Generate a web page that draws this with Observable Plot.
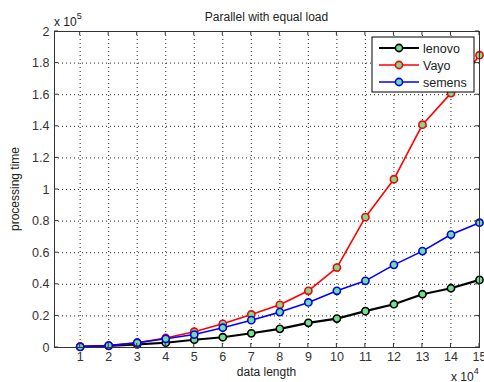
<!DOCTYPE html>
<html>
<head>
<meta charset="utf-8">
<script src="https://cdn.jsdelivr.net/npm/d3@7"></script>
<script src="https://cdn.jsdelivr.net/npm/@observablehq/plot@0.6"></script>
<style>
  html, body { margin: 0; padding: 0; background: #fff; }
  svg { display: block; }
</style>
</head>
<body>
<div id="chart"></div>
<script>
const dataLength = [1, 2, 3, 4, 5, 6, 7, 8, 9, 10, 11, 12, 13, 14, 15]; // x 10^4
const lenovo = [600, 1000, 2000, 3000, 4900, 6500, 9000, 11800, 15600, 18300, 23000, 27400, 33700, 37500, 42800];
const vayo   = [500, 1200, 3000, 6000, 10000, 15000, 20900, 27000, 35900, 50600, 82500, 106500, 141000, 161000, 185000];
const semens = [400, 1200, 3000, 5500, 8200, 12500, 17300, 22400, 28500, 35900, 42200, 52300, 61000, 71500, 79000];
const seriesNames = ["lenovo", "Vayo", "semens"];
const seriesColors = ["#000000", "#ff0000", "#0000ff"];
const seriesWidths = [2.2, 1.6, 1.6];
const yTicks = [0, 20000, 40000, 60000, 80000, 100000, 120000, 140000, 160000, 180000, 200000];
const xTicks = dataLength;
const markerFill = "#72e08e";

const allSeries = [lenovo, vayo, semens];
const rows = [];
allSeries.forEach((vals, si) => {
  vals.forEach((v, i) => rows.push({series: seriesNames[si], x: dataLength[i], y: v}));
});

const W = 484, H = 382;
const marks = [
  Plot.gridX(xTicks, {stroke: "#000", strokeOpacity: 0.85, strokeDasharray: "1,3"}),
  Plot.gridY(yTicks, {stroke: "#000", strokeOpacity: 0.85, strokeDasharray: "1,3"}),
  Plot.axisX(xTicks, {tickSize: 0, tickPadding: 5, fontSize: 12.5, fill: "#333", label: null}),
  Plot.axisY(yTicks, {tickSize: 0, tickPadding: 5, fontSize: 12.5, fill: "#333", label: null, tickFormat: d => String(d / 1e5)})
];
seriesNames.forEach((name, si) => {
  const d = rows.filter(r => r.series === name);
  marks.push(Plot.line(d, {x: "x", y: "y", stroke: seriesColors[si], strokeWidth: seriesWidths[si]}));
  marks.push(Plot.dot(d, {x: "x", y: "y", r: 3.6, fill: markerFill, stroke: seriesColors[si], strokeWidth: 1.6}));
});
marks.push(Plot.frame({stroke: "#333", strokeWidth: 1}));

const chart = Plot.plot({
  width: W,
  height: H,
  marginTop: 31,
  marginBottom: 35,
  marginLeft: 54,
  marginRight: 5,
  style: {fontFamily: "'Liberation Sans', Arial, sans-serif", background: "#fff"},
  x: {domain: [0.1, 15], type: "linear"},
  y: {domain: [0, 200000], type: "linear"},
  marks
});
document.getElementById("chart").appendChild(chart);

// Decorations (inward ticks, titles, exponents, legend)
const svg = d3.select(chart);
const sx = chart.scale("x"), sy = chart.scale("y");
const x0 = 54, x1 = W - 5, y0 = 31, y1 = H - 35;
const g = svg.append("g").attr("stroke", "#333").attr("stroke-width", 1);
xTicks.forEach(t => {
  const px = sx.apply(t);
  g.append("line").attr("x1", px).attr("x2", px).attr("y1", y1).attr("y2", y1 - 4);
  g.append("line").attr("x1", px).attr("x2", px).attr("y1", y0).attr("y2", y0 + 4);
});
yTicks.forEach(t => {
  const py = sy.apply(t);
  g.append("line").attr("y1", py).attr("y2", py).attr("x1", x0).attr("x2", x0 + 4);
  g.append("line").attr("y1", py).attr("y2", py).attr("x1", x1).attr("x2", x1 - 4);
});

const font = "'Liberation Sans', Arial, sans-serif";
const txt = svg.append("g").attr("font-family", font).attr("fill", "#222");
txt.append("text").attr("x", (x0 + x1) / 2).attr("y", 21).attr("text-anchor", "middle")
  .attr("font-size", 12).text("Parallel with equal load");
txt.append("text").attr("x", (x0 + x1) / 2).attr("y", 376).attr("text-anchor", "middle")
  .attr("font-size", 12).text("data length");
txt.append("text").attr("transform", `translate(19,${(y0 + y1) / 2}) rotate(-90)`).attr("text-anchor", "middle")
  .attr("font-size", 12).text("processing time");
// exponent labels
const e5 = txt.append("text").attr("x", 54).attr("y", 26).attr("font-size", 12).attr("text-anchor", "start");
e5.append("tspan").text("x 10");
e5.append("tspan").attr("dy", -7).attr("font-size", 9).text("5");
const e4 = txt.append("text").attr("x", 451).attr("y", 381).attr("font-size", 12).attr("text-anchor", "start");
e4.append("tspan").text("x 10");
e4.append("tspan").attr("dy", -7).attr("font-size", 9).text("4");

// legend
const lg = svg.append("g");
lg.append("rect").attr("x", 372).attr("y", 37).attr("width", 102).attr("height", 55)
  .attr("fill", "#fff").attr("stroke", "#000").attr("stroke-width", 1);
const rowsY = [48, 65, 82];
seriesNames.forEach((name, i) => {
  const y = rowsY[i];
  lg.append("line").attr("x1", 379).attr("x2", 419).attr("y1", y).attr("y2", y)
    .attr("stroke", seriesColors[i]).attr("stroke-width", seriesWidths[i]);
  lg.append("circle").attr("cx", 399).attr("cy", y).attr("r", 3.6)
    .attr("fill", markerFill).attr("stroke", seriesColors[i]).attr("stroke-width", 1.6);
  lg.append("text").attr("x", 423).attr("y", y + 4.5).attr("font-family", font)
    .attr("text-anchor", "start")
    .attr("font-size", 12.5).attr("fill", "#222").text(name);
});
</script>
</body>
</html>
